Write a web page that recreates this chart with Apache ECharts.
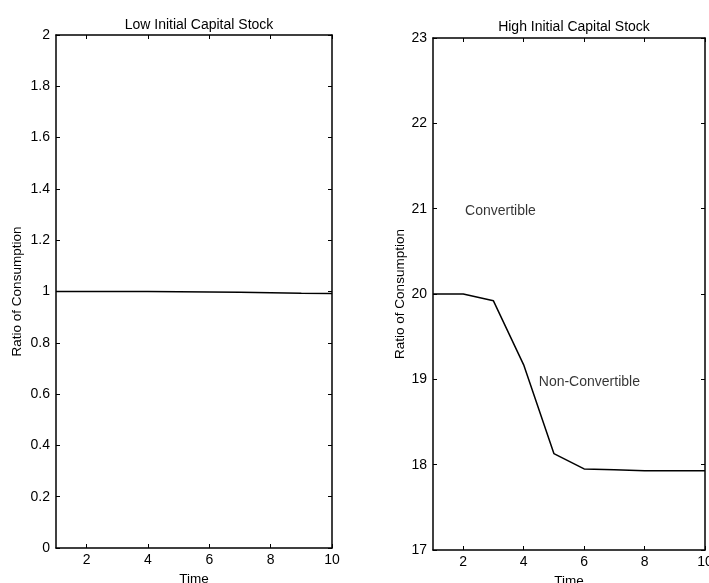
<!DOCTYPE html>
<html>
<head>
<meta charset="utf-8">
<script src="https://cdn.jsdelivr.net/npm/echarts@6/dist/echarts.min.js"></script>
<style>
  html, body { margin: 0; padding: 0; background: #fff; }
  #chart { width: 709px; height: 583px; }
</style>
</head>
<body>
<div id="chart"></div>
<script>
// data
const time = [1, 2, 3, 4, 5, 6, 7, 8, 9, 10];
const lowCapital = [1.0, 1.0, 1.0, 1.0, 0.999, 0.998, 0.997, 0.995, 0.993, 0.992];
const highCapital = [20.0, 20.0, 19.92, 19.17, 18.13, 17.95, 17.94, 17.93, 17.93, 17.93];
const xTicks = [2, 4, 6, 8, 10];
const titles = ['Low Initial Capital Stock', 'High Initial Capital Stock'];
// annotation text, anchored in data coordinates of the right panel
const notes = [
    {text: 'Convertible', x: 2.06, y: 20.97},
    {text: 'Non-Convertible', x: 4.5, y: 18.97}
];

const font = 'Liberation Sans, Arial, sans-serif';
const fs = 14;

function xAxes(grid) {
    return [
        {
            type: 'value', gridIndex: grid, min: 1, max: 10,
            name: 'Time', nameLocation: 'middle', nameGap: 23,
            nameTextStyle: {color: '#000', fontFamily: font, fontSize: 13.5},
            axisLine: {onZero: false, lineStyle: {color: '#000', width: 1.5}},
            axisTick: {inside: true, length: 4, customValues: xTicks, lineStyle: {color: '#000'}},
            axisLabel: {customValues: xTicks, color: '#000', fontFamily: font, fontSize: fs, margin: 5},
            splitLine: {show: false}
        },
        {
            type: 'value', gridIndex: grid, min: 1, max: 10, position: 'top',
            axisLine: {onZero: false, lineStyle: {color: '#000', width: 1.5}},
            axisTick: {inside: true, length: 4, customValues: xTicks, lineStyle: {color: '#000'}},
            axisLabel: {show: false},
            splitLine: {show: false}
        }
    ];
}

function yAxes(grid, min, max, step, gap) {
    return [
        {
            type: 'value', gridIndex: grid, min: min, max: max, interval: step,
            name: 'Ratio of Consumption', nameLocation: 'middle', nameGap: gap,
            nameTextStyle: {color: '#000', fontFamily: font, fontSize: 13.5},
            axisLine: {show: true, onZero: false, lineStyle: {color: '#000', width: 1.5}},
            axisTick: {show: true, inside: true, length: 4, lineStyle: {color: '#000'}},
            axisLabel: {color: '#000', fontFamily: font, fontSize: fs, margin: 6},
            splitLine: {show: false}
        },
        {
            type: 'value', gridIndex: grid, min: min, max: max, interval: step, position: 'right',
            axisLine: {show: true, onZero: false, lineStyle: {color: '#000', width: 1.5}},
            axisTick: {show: true, inside: true, length: 4, lineStyle: {color: '#000'}},
            axisLabel: {show: false},
            splitLine: {show: false}
        }
    ];
}

const chart = echarts.init(document.getElementById('chart'));

const option = {
    backgroundColor: '#fff',
    animation: false,
    title: [
        {text: titles[0], left: 194, top: 13, textAlign: 'center',
         textStyle: {color: '#000', fontFamily: font, fontSize: fs, fontWeight: 'normal'}},
        {text: titles[1], left: 569, top: 15, textAlign: 'center',
         textStyle: {color: '#000', fontFamily: font, fontSize: fs, fontWeight: 'normal'}}
    ],
    grid: [
        {left: 56, right: 377, top: 35, bottom: 35, outerBoundsMode: 'none'},
        {left: 433, right: 4, top: 38, bottom: 33, outerBoundsMode: 'none'}
    ],
    xAxis: xAxes(0).concat(xAxes(1)),
    yAxis: yAxes(0, 0, 2, 0.2, 32).concat(yAxes(1, 17, 23, 1, 20)),
    series: [
        {
            type: 'line', xAxisIndex: 0, yAxisIndex: 0,
            data: time.map((t, i) => [t, lowCapital[i]]),
            showSymbol: false,
            lineStyle: {color: '#000', width: 1.5}
        },
        {
            type: 'line', xAxisIndex: 2, yAxisIndex: 2,
            data: time.map((t, i) => [t, highCapital[i]]),
            showSymbol: false,
            lineStyle: {color: '#000', width: 1.5}
        },
        {
            type: 'scatter', xAxisIndex: 2, yAxisIndex: 2,
            symbolSize: 0,
            data: notes.map(n => ({value: [n.x, n.y], name: n.text})),
            label: {
                show: true, position: 'right', distance: 0,
                formatter: p => p.name,
                color: '#000', fontFamily: font, fontSize: fs
            },
            silent: true
        }
    ]
};

chart.setOption(option);
</script>
</body>
</html>
